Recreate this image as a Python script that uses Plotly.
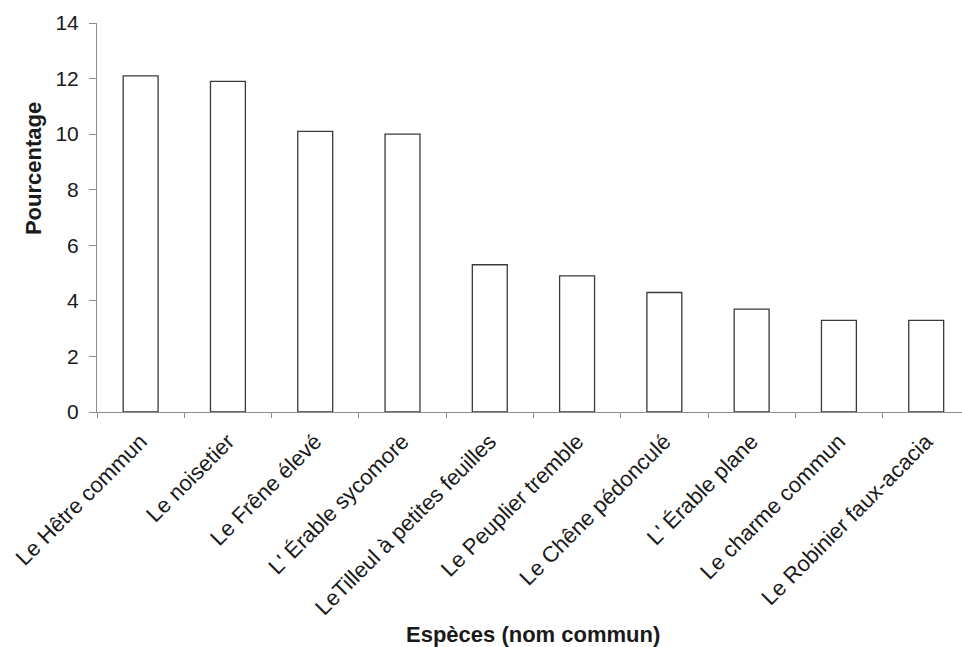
import plotly.graph_objects as go

species = [
    "Le Hêtre commun",
    "Le noisetier",
    "Le Frêne élevé",
    "L' Érable sycomore",
    "LeTilleul à petites feuilles",
    "Le Peuplier tremble",
    "Le Chêne pédonculé",
    "L' Érable plane",
    "Le charme commun",
    "Le Robinier faux-acacia",
]
percentages = [12.1, 11.9, 10.1, 10.0, 5.3, 4.9, 4.3, 3.7, 3.3, 3.3]
y_ticks = [0, 2, 4, 6, 8, 10, 12, 14]

FONT = "Liberation Sans, Arial, sans-serif"
TEXT = "#1a1a1a"
AXIS = "#8c8c8c"

fig = go.Figure(
    go.Bar(
        x=species,
        y=percentages,
        width=0.4,
        marker=dict(color="white", line=dict(color="#3a3a3a", width=1.3)),
        hoverinfo="x+y",
    )
)

fig.update_layout(
    width=962,
    height=647,
    margin=dict(l=97, r=0, t=23, b=235),
    paper_bgcolor="white",
    plot_bgcolor="white",
    showlegend=False,
    font=dict(family=FONT, color=TEXT, size=20),
    xaxis=dict(
        type="category",
        range=[-0.5, 9.41],
        tickangle=-45,
        tickson="boundaries",
        ticks="outside",
        ticklen=5,
        tickcolor=AXIS,
        showline=True,
        linecolor=AXIS,
        linewidth=1,
        showgrid=False,
        zeroline=False,
        tickfont=dict(size=22, color=TEXT),
        ticklabelstandoff=7,
    ),
    yaxis=dict(
        range=[0, 14],
        tickvals=y_ticks,
        ticks="outside",
        ticklen=7,
        tickcolor=AXIS,
        showline=True,
        linecolor=AXIS,
        linewidth=1,
        showgrid=False,
        zeroline=False,
        tickfont=dict(size=21, color=TEXT),
        ticklabelstandoff=6,
    ),
    annotations=[
        dict(
            text="<b>Espèces (nom commun)</b>",
            xref="paper", yref="paper",
            x=0.504, y=-0.571,
            xanchor="center", yanchor="middle",
            showarrow=False,
            font=dict(size=22, color=TEXT, family=FONT),
        ),
        dict(
            text="<b>Pourcentage</b>",
            xref="paper", yref="paper",
            x=-0.074, y=0.627,
            xanchor="center", yanchor="middle",
            textangle=-90,
            showarrow=False,
            font=dict(size=22, color=TEXT, family=FONT),
        ),
    ],
)

fig.write_html(
    "out.html",
    config={"displayModeBar": False},
    post_script="document.body.style.margin='0';document.body.style.overflow='hidden';",
)
